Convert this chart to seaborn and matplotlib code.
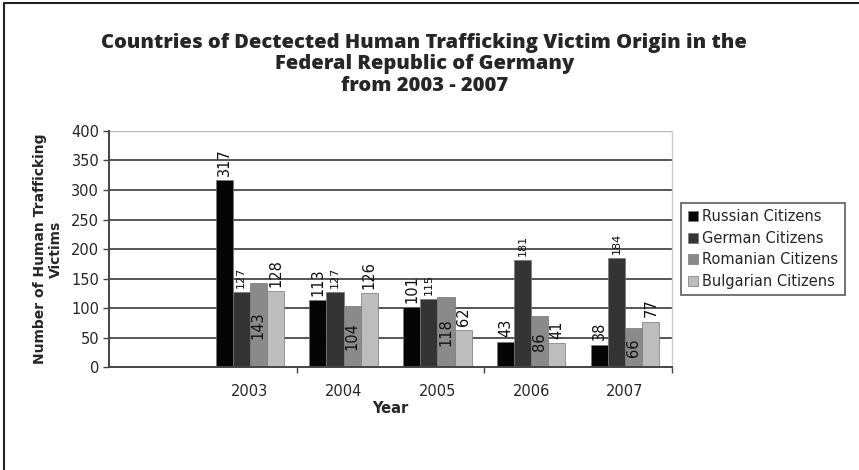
import matplotlib
matplotlib.use("Agg")
import matplotlib.pyplot as plt
import seaborn as sns
import pandas as pd
from matplotlib.lines import Line2D
from matplotlib.ticker import FixedLocator

years = ["2003", "2004", "2005", "2006", "2007"]
russian = [317, 113, 101, 43, 38]
german = [127, 127, 115, 181, 184]
romanian = [143, 104, 118, 86, 66]
bulgarian = [128, 126, 62, 41, 77]
series_names = ["Russian Citizens", "German Citizens", "Romanian Citizens", "Bulgarian Citizens"]
series_values = [russian, german, romanian, bulgarian]
colors = ["#050505", "#343434", "#8a8a8a", "#bdbdbd"]

rows = []
for name, vals in zip(series_names, series_values):
    for y, v in zip(years, vals):
        rows.append({"Year": y, "Citizens": name, "Victims": v})
df = pd.DataFrame(rows)
order = [""] + years  # leading empty category slot

sns.set_theme(style="white")
plt.rcParams["font.family"] = ["DejaVu Sans"]

fig = plt.figure(figsize=(8.59, 4.70), dpi=100)
ax = fig.add_axes([0.1269, 0.2191, 0.6554, 0.5022])

sns.barplot(data=df, x="Year", y="Victims", hue="Citizens", order=order,
            hue_order=series_names, palette=colors, width=0.73,
            edgecolor="#777777", linewidth=0.5, saturation=1, ax=ax, legend=True)

ax.set_ylim(0, 400)
ax.set_xlim(-0.5, 5.5)
ax.set_yticks(range(0, 401, 50))
ax.tick_params(axis="y", labelsize=10.5, length=4, width=1, color="#444444", direction="out", left=True, pad=3)
ax.tick_params(axis="x", labelsize=10.5, length=0, pad=12)
ax.xaxis.set_minor_locator(FixedLocator([1.5, 3.5, 5.5]))
ax.tick_params(axis="x", which="minor", length=4, width=1, color="#444444", direction="out", bottom=True)

for yv in range(50, 351, 50):
    ax.axhline(yv, color="#555555", lw=1.4, zorder=0)
ax.axhline(400, color="#bbbbbb", lw=1.0, zorder=0)

ax.spines["top"].set_visible(False)
ax.spines["right"].set_color("#cccccc")
ax.spines["right"].set_linewidth(1)
ax.spines["left"].set_color("#444444")
ax.spines["left"].set_linewidth(1.4)
ax.spines["bottom"].set_color("#444444")
ax.spines["bottom"].set_linewidth(1.4)

ax.set_xlabel("Year", fontsize=10.5, fontweight="bold", labelpad=2)
ax.set_ylabel("Number of Human Trafficking\nVictims", fontsize=10, fontweight="bold", labelpad=6, linespacing=1.15)

# value labels
for i, cont in enumerate(ax.containers):
    if i == 2:
        ax.bar_label(cont, label_type="center", rotation=90, fontsize=10.5, color="#111111")
    elif i == 1:
        ax.bar_label(cont, label_type="edge", rotation=90, fontsize=8, padding=3, color="#111111")
    else:
        ax.bar_label(cont, label_type="edge", rotation=90, fontsize=10.5, padding=3, color="#111111")

leg = ax.legend(loc="center left", bbox_to_anchor=(1.016, 0.5), frameon=True, fontsize=10.5,
                handlelength=0.7, handleheight=0.7, handletextpad=0.3, borderpad=0.45,
                labelspacing=0.45, fancybox=False, borderaxespad=0)
leg.get_frame().set_edgecolor("#333333")
leg.get_frame().set_linewidth(1.2)

fig.text(0.494, 0.93, "Countries of Dectected Human Trafficking Victim Origin in the\nFederal Republic of Germany\nfrom 2003 - 2007",
         ha="center", va="top", fontsize=14.5, fontweight="heavy", family=["Open Sans", "DejaVu Sans"],
         linespacing=1.1)

# frame along the top and left edges
fig.add_artist(Line2D([0.005, 1.0], [0.993, 0.993], transform=fig.transFigure, color="#222222", lw=1.5))
fig.add_artist(Line2D([0.005, 0.005], [0.0, 0.993], transform=fig.transFigure, color="#222222", lw=1.5))

fig.savefig("out.png", dpi=100)
